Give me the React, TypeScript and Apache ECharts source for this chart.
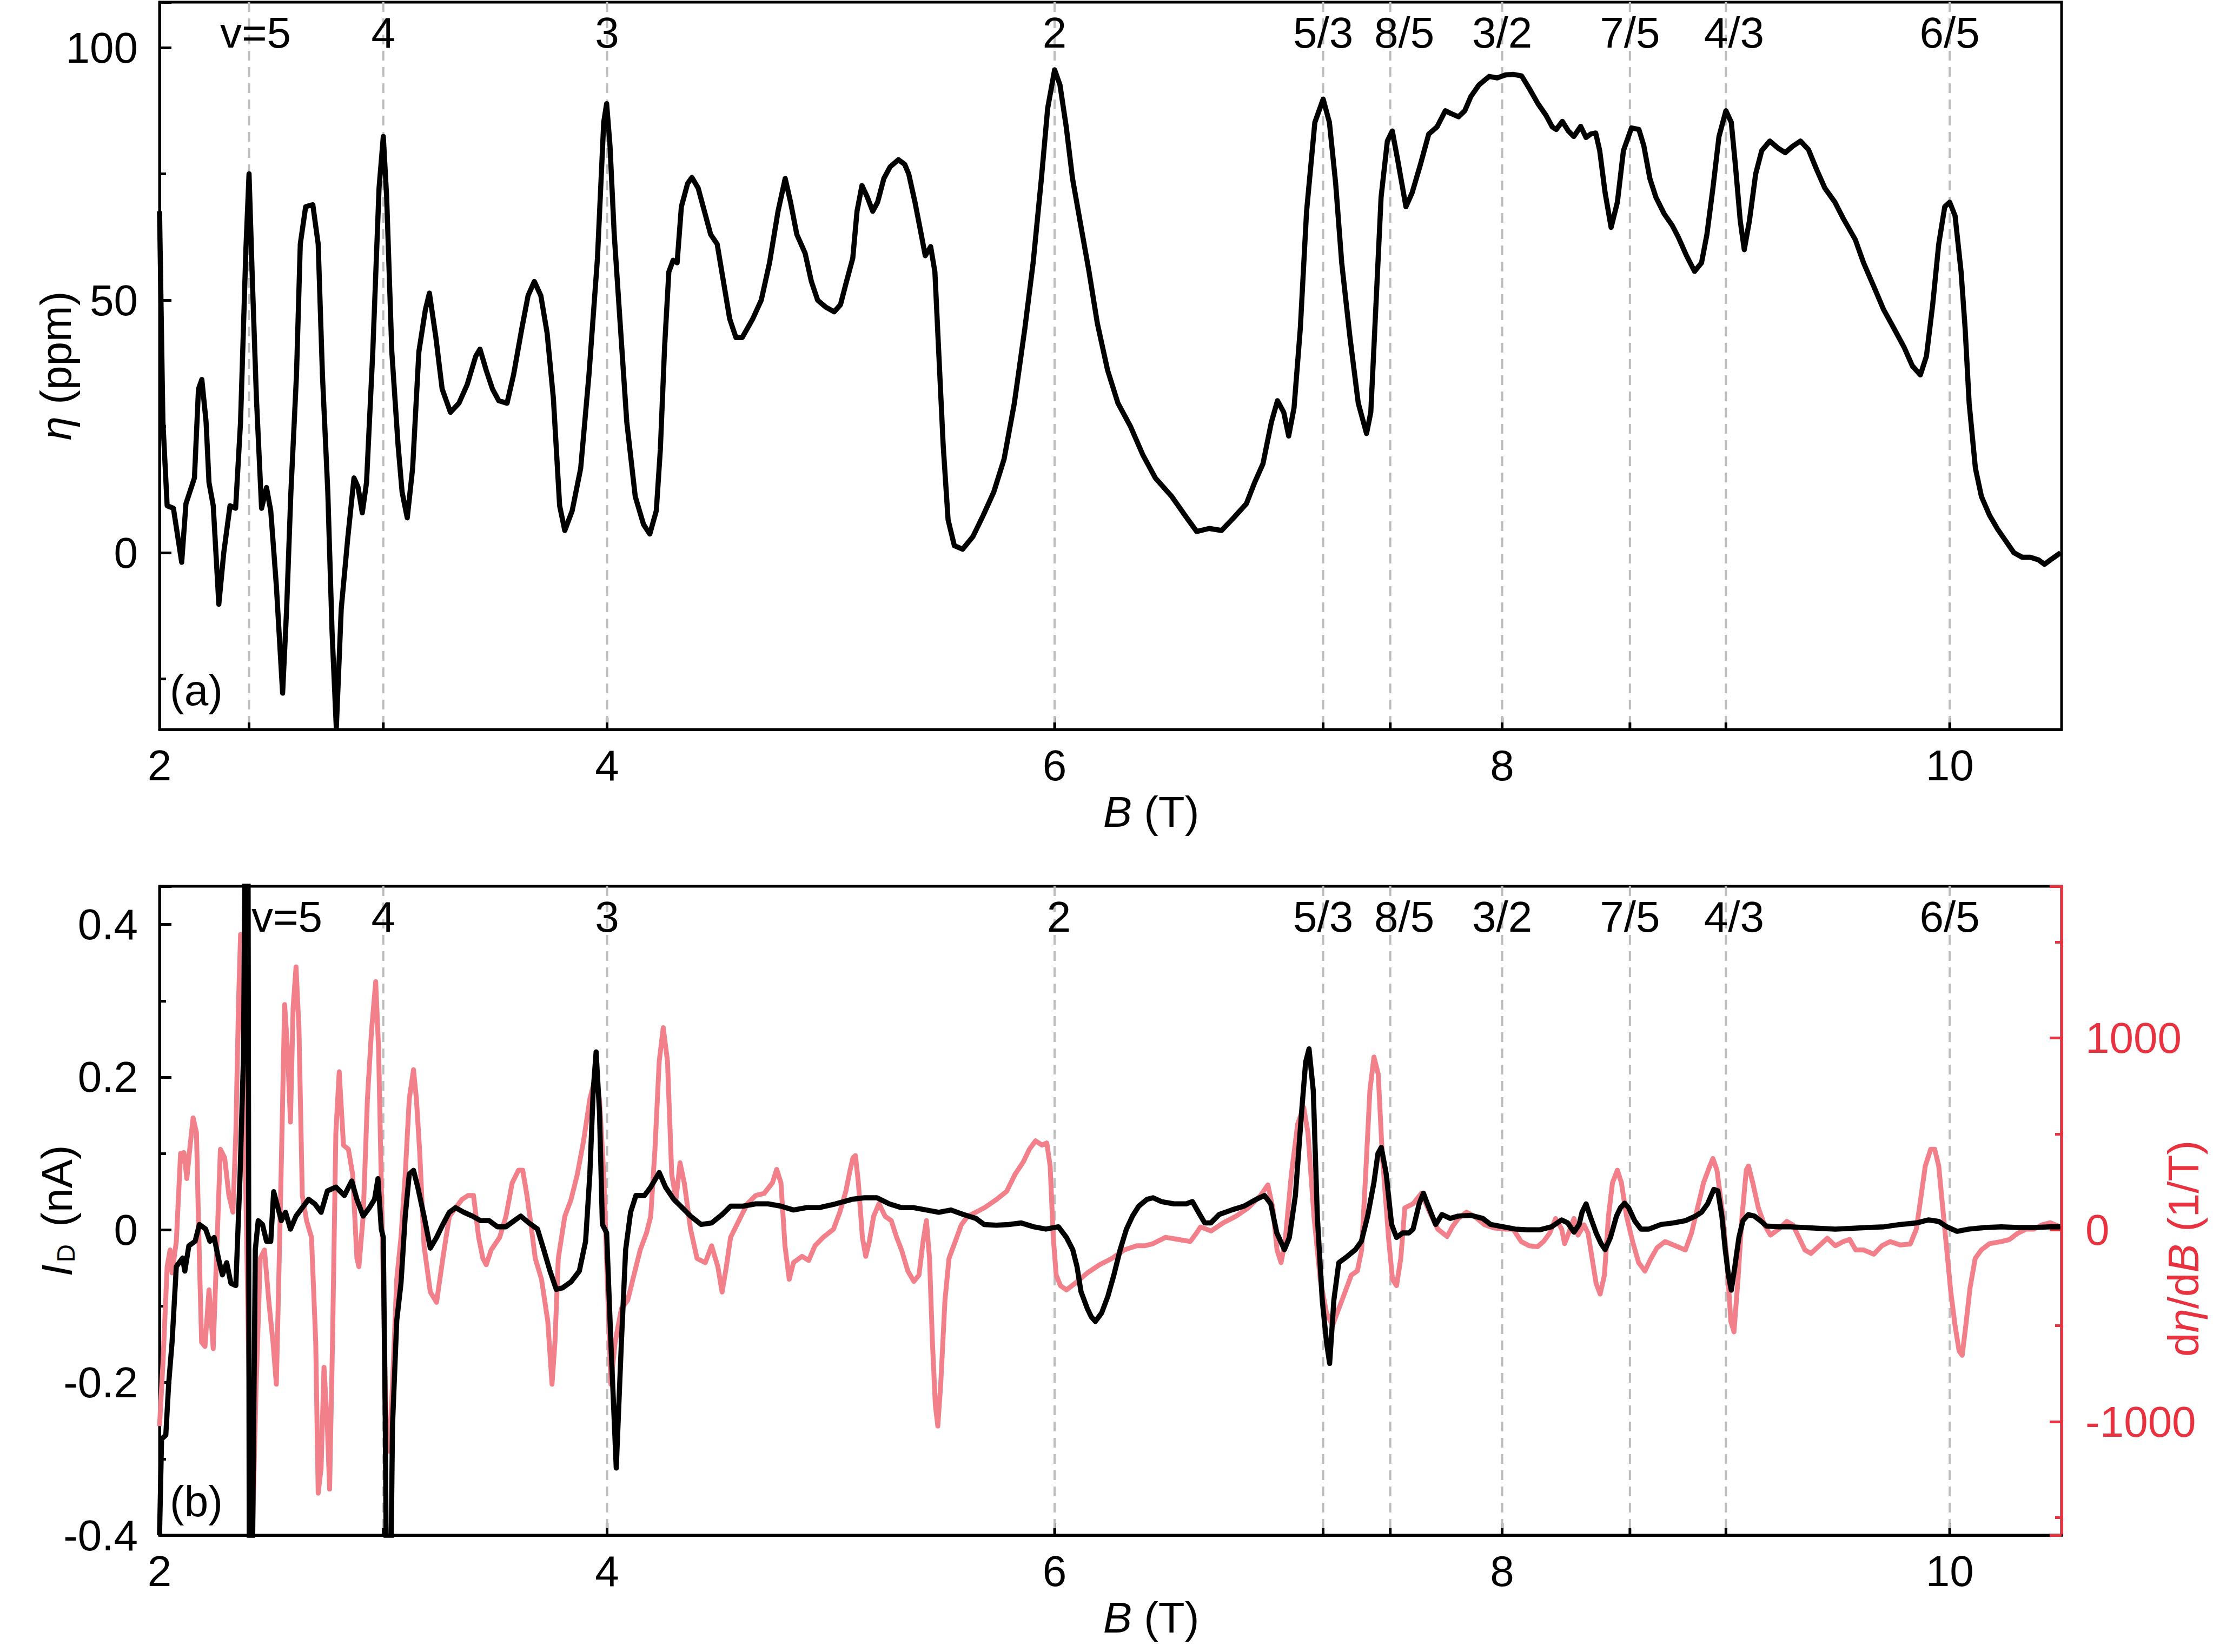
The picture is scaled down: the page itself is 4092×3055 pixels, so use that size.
import React, { useEffect, useRef } from 'react';
import * as echarts from 'echarts';

const FONT = 'Liberation Sans, Arial, Helvetica, sans-serif';
const RED = '#e8323f';
const PINK = '#f2808a';
const GRAY = '#bdbdbd';
const FS = 80;

// Filling factors: field positions and labels
const nuB = [2.4, 3, 4, 6, 7.2, 7.5, 8, 8.571, 9, 10];
const nuLabels = ['v=5', '4', '3', '2', '5/3', '8/5', '3/2', '7/5', '4/3', '6/5'];

// Axis ranges
const bRange = [2, 10.5];
const etaRange = [-35, 109];
const idRange = [-0.4, 0.45];
const dEtaRange = [-1592, 1791];

// (a) eta (ppm) vs B (T)
const etaCurve: [number, number][] = [
  [2.000,67.6],[2.015,26.0],[2.034,9.3],[2.062,8.8],[2.099,-1.9],[2.118,9.7],[2.156,14.8],[2.174,32.4],[2.189,34.3],[2.208,25.9],[2.221,13.9],[2.240,9.3],[2.265,-10.2],[2.287,0],[2.315,9.3],[2.340,8.8],[2.362,25.9],[2.386,60.2],[2.400,75.0],[2.415,53.7],[2.433,30.6],[2.456,8.8],[2.478,12.9],[2.497,8.3],[2.522,-6.5],[2.550,-27.8],[2.568,-11.1],[2.587,12.0],[2.612,35.2],[2.629,61.1],[2.653,68.5],[2.685,68.9],[2.709,61.1],[2.728,35.2],[2.752,12.0],[2.771,-15.7],[2.790,-34.7],[2.812,-11.1],[2.841,2.8],[2.869,14.8],[2.887,13.0],[2.906,7.9],[2.925,13.9],[2.953,39.8],[2.981,72.2],[3.000,82.4],[3.015,70.4],[3.038,39.8],[3.066,21.3],[3.084,12.0],[3.107,6.9],[3.131,16.7],[3.159,39.8],[3.188,48.1],[3.206,51.4],[3.235,42.6],[3.263,32.4],[3.300,27.8],[3.338,29.6],[3.375,33.3],[3.413,38.9],[3.432,40.3],[3.460,36.1],[3.488,32.4],[3.516,30.1],[3.553,29.6],[3.582,35.2],[3.619,44.4],[3.647,50.9],[3.675,53.7],[3.704,50.9],[3.732,43.5],[3.760,30.6],[3.788,9.3],[3.811,4.4],[3.844,8.3],[3.882,16.7],[3.919,35.2],[3.957,58.3],[3.985,85.2],[3.998,88.9],[4.013,80.6],[4.032,63.0],[4.060,44.4],[4.088,25.9],[4.126,11.1],[4.163,5.6],[4.191,3.7],[4.220,8.3],[4.238,20.4],[4.257,40.7],[4.276,55.6],[4.295,57.9],[4.313,57.4],[4.332,68.5],[4.360,73.1],[4.379,74.3],[4.407,72.2],[4.435,67.6],[4.463,63.0],[4.492,61.1],[4.520,53.7],[4.548,46.3],[4.576,42.6],[4.604,42.6],[4.651,46.3],[4.689,50.0],[4.726,57.4],[4.764,67.6],[4.796,74.1],[4.820,69.4],[4.848,63.0],[4.885,59.3],[4.913,53.7],[4.941,50.0],[4.978,48.6],[5.015,47.7],[5.043,49.1],[5.070,53.7],[5.098,58.3],[5.117,67.6],[5.139,72.7],[5.163,70.4],[5.187,67.6],[5.209,69.4],[5.237,74.1],[5.265,76.4],[5.302,77.8],[5.330,76.9],[5.348,75.0],[5.376,69.4],[5.404,63.0],[5.422,58.8],[5.446,60.6],[5.465,55.6],[5.483,38.9],[5.502,21.3],[5.524,6.5],[5.552,1.4],[5.589,0.7],[5.635,3.2],[5.681,7.4],[5.728,12.0],[5.774,18.5],[5.820,29.6],[5.867,44.4],[5.904,57.4],[5.941,74.1],[5.969,88.0],[6.000,95.6],[6.024,92.6],[6.052,84.3],[6.080,74.1],[6.117,64.8],[6.154,55.6],[6.191,45.4],[6.237,36.1],[6.283,29.6],[6.339,25.0],[6.394,19.4],[6.450,14.8],[6.524,11.1],[6.589,7.0],[6.635,4.2],[6.691,4.8],[6.746,4.4],[6.802,7.0],[6.857,9.7],[6.894,13.9],[6.931,17.6],[6.969,25.9],[6.996,30.1],[7.024,27.8],[7.046,23.1],[7.070,28.7],[7.098,44.4],[7.126,67.6],[7.163,85.2],[7.200,89.8],[7.228,85.2],[7.256,73.1],[7.283,57.4],[7.320,42.6],[7.357,29.6],[7.394,23.6],[7.413,27.8],[7.431,44.4],[7.459,70.4],[7.487,81.5],[7.509,83.5],[7.533,77.8],[7.570,68.5],[7.598,71.3],[7.635,76.9],[7.672,82.9],[7.709,84.3],[7.746,87.5],[7.769,87.0],[7.805,86.3],[7.833,87.5],[7.860,90.3],[7.896,92.6],[7.942,94.3],[7.978,94.0],[8.015,94.6],[8.051,94.7],[8.087,94.4],[8.124,91.7],[8.160,88.9],[8.196,86.6],[8.224,84.3],[8.242,83.8],[8.269,85.4],[8.296,83.5],[8.320,82.4],[8.351,84.4],[8.375,82.2],[8.396,82.9],[8.418,83.1],[8.436,79.6],[8.460,71.3],[8.487,64.4],[8.515,69.4],[8.542,79.6],[8.578,84.1],[8.611,83.8],[8.633,80.6],[8.660,74.1],[8.687,70.4],[8.724,67.1],[8.760,64.8],[8.787,62.5],[8.824,58.8],[8.860,55.7],[8.891,57.4],[8.915,63.0],[8.942,72.2],[8.969,82.4],[9.000,87.5],[9.024,85.2],[9.042,76.9],[9.064,65.7],[9.082,60.0],[9.105,65.7],[9.133,75.0],[9.160,79.6],[9.196,81.5],[9.233,80.1],[9.265,79.2],[9.296,80.4],[9.333,81.5],[9.369,79.8],[9.405,75.9],[9.442,72.2],[9.487,69.4],[9.524,66.2],[9.578,62.0],[9.615,57.4],[9.660,52.8],[9.705,48.1],[9.751,44.4],[9.796,40.7],[9.833,37.0],[9.869,35.2],[9.896,38.9],[9.924,49.1],[9.951,61.1],[9.978,68.5],[10.000,69.4],[10.024,66.7],[10.051,55.6],[10.069,44.4],[10.087,29.6],[10.115,16.7],[10.142,11.1],[10.178,7.4],[10.215,4.6],[10.251,2.3],[10.287,0.0],[10.324,-0.9],[10.360,-0.9],[10.396,-1.4],[10.424,-2.3],[10.451,-1.4],[10.496,0.0]
];

// (b) I_D (nA) vs B (T)
const idCurve: [number, number][] = [
  [2.000,-0.40],[2.009,-0.274],[2.028,-0.269],[2.041,-0.201],[2.056,-0.147],[2.075,-0.048],[2.103,-0.037],[2.113,-0.054],[2.131,-0.021],[2.159,-0.015],[2.178,0.007],[2.206,0.001],[2.225,-0.015],[2.244,-0.010],[2.263,-0.037],[2.281,-0.059],[2.300,-0.043],[2.319,-0.070],[2.341,-0.073],[2.360,0.073],[2.375,0.226],[2.385,0.60],[2.395,0.60],[2.402,-0.60],[2.410,-0.60],[2.428,-0.026],[2.441,0.012],[2.460,0.007],[2.478,-0.015],[2.497,-0.015],[2.510,0.050],[2.529,0.029],[2.544,0.012],[2.563,0.023],[2.585,0.001],[2.610,0.018],[2.638,0.029],[2.666,0.040],[2.694,0.034],[2.722,0.023],[2.750,0.051],[2.788,0.056],[2.826,0.045],[2.859,0.064],[2.882,0.040],[2.910,0.018],[2.938,0.029],[2.961,0.040],[2.976,0.067],[2.991,0.001],[3.000,-0.010],[3.009,-0.257],[3.017,-0.60],[3.028,-0.60],[3.041,-0.257],[3.060,-0.119],[3.079,-0.070],[3.098,0.018],[3.116,0.073],[3.135,0.078],[3.154,0.056],[3.182,0.018],[3.210,-0.024],[3.238,-0.010],[3.266,0.007],[3.295,0.023],[3.323,0.029],[3.360,0.023],[3.398,0.018],[3.435,0.012],[3.473,0.012],[3.510,0.004],[3.548,0.004],[3.585,0.012],[3.614,0.018],[3.651,0.009],[3.689,0.001],[3.717,-0.026],[3.745,-0.054],[3.773,-0.078],[3.801,-0.076],[3.839,-0.068],[3.876,-0.054],[3.904,-0.015],[3.923,0.073],[3.938,0.182],[3.951,0.233],[3.966,0.155],[3.979,0.007],[3.998,-0.004],[4.017,-0.147],[4.041,-0.312],[4.064,-0.147],[4.083,-0.026],[4.105,0.023],[4.129,0.045],[4.167,0.045],[4.195,0.056],[4.233,0.075],[4.261,0.056],[4.298,0.040],[4.336,0.029],[4.373,0.018],[4.420,0.007],[4.467,0.009],[4.514,0.020],[4.552,0.031],[4.608,0.031],[4.664,0.034],[4.720,0.034],[4.777,0.031],[4.833,0.026],[4.889,0.029],[4.948,0.029],[5.021,0.034],[5.095,0.040],[5.150,0.042],[5.206,0.042],[5.261,0.034],[5.316,0.029],[5.371,0.029],[5.427,0.026],[5.482,0.023],[5.537,0.026],[5.593,0.020],[5.648,0.015],[5.685,0.007],[5.740,0.006],[5.795,0.007],[5.851,0.009],[5.906,0.004],[5.961,0.001],[6.017,0.004],[6.053,-0.010],[6.081,-0.026],[6.100,-0.048],[6.118,-0.081],[6.146,-0.103],[6.164,-0.114],[6.182,-0.120],[6.210,-0.109],[6.238,-0.087],[6.265,-0.059],[6.293,-0.026],[6.321,0.001],[6.348,0.018],[6.376,0.031],[6.413,0.040],[6.440,0.042],[6.477,0.037],[6.533,0.034],[6.588,0.034],[6.616,0.037],[6.643,0.023],[6.671,0.009],[6.698,0.009],[6.735,0.020],[6.791,0.026],[6.846,0.031],[6.901,0.040],[6.938,0.045],[6.966,0.034],[6.993,-0.004],[7.027,-0.026],[7.049,-0.010],[7.076,0.045],[7.104,0.155],[7.122,0.220],[7.137,0.237],[7.156,0.182],[7.174,0.018],[7.196,-0.092],[7.215,-0.147],[7.229,-0.175],[7.248,-0.092],[7.270,-0.043],[7.307,-0.035],[7.344,-0.026],[7.371,-0.015],[7.399,0.018],[7.427,0.062],[7.445,0.100],[7.460,0.108],[7.482,0.073],[7.506,0.007],[7.528,-0.010],[7.556,-0.004],[7.583,-0.004],[7.602,0.001],[7.629,0.034],[7.648,0.048],[7.666,0.034],[7.703,0.007],[7.731,0.020],[7.768,0.015],[7.804,0.018],[7.859,0.019],[7.913,0.015],[7.949,0.007],[8.004,0.004],[8.058,0.001],[8.112,0.000],[8.167,0.000],[8.221,0.004],[8.266,0.013],[8.293,0.009],[8.321,-0.003],[8.344,0.007],[8.357,0.023],[8.375,0.034],[8.393,0.018],[8.420,-0.004],[8.442,-0.018],[8.460,-0.026],[8.484,-0.010],[8.511,0.018],[8.529,0.029],[8.547,0.035],[8.565,0.029],[8.592,0.012],[8.620,0.001],[8.656,0.001],[8.710,0.007],[8.764,0.009],[8.819,0.012],[8.864,0.018],[8.891,0.023],[8.918,0.034],[8.946,0.053],[8.964,0.051],[8.982,0.018],[8.997,-0.026],[9.011,-0.059],[9.024,-0.079],[9.040,-0.048],[9.058,-0.010],[9.076,0.012],[9.100,0.020],[9.127,0.018],[9.154,0.012],[9.181,0.005],[9.236,0.004],[9.290,0.004],[9.344,0.003],[9.417,0.002],[9.489,0.001],[9.562,0.002],[9.634,0.003],[9.707,0.004],[9.779,0.007],[9.851,0.009],[9.906,0.013],[9.951,0.011],[9.987,0.004],[10.033,-0.002],[10.087,0.001],[10.159,0.003],[10.232,0.004],[10.304,0.003],[10.377,0.003],[10.449,0.004],[10.495,0.004]
];

// (b) d(eta)/dB (1/T) vs B (T)
const dEtaCurve: [number, number][] = [
  [2.000,-1023],[2.015,-700],[2.034,-192],[2.047,-105],[2.056,-225],[2.075,-61],[2.094,398],[2.109,403],[2.122,267],[2.135,420],[2.150,584],[2.165,507],[2.178,-149],[2.188,-586],[2.203,-608],[2.221,-313],[2.240,-619],[2.253,-192],[2.272,420],[2.291,376],[2.310,179],[2.328,92],[2.341,507],[2.353,1181],[2.362,1540],[2.375,940],[2.394,-368],[2.413,-1700],[2.432,-805],[2.450,-149],[2.469,-105],[2.488,-368],[2.507,-586],[2.522,-805],[2.535,-149],[2.548,551],[2.559,1174],[2.572,940],[2.585,562],[2.597,1159],[2.610,1371],[2.623,1050],[2.638,179],[2.657,48],[2.679,-39],[2.698,-586],[2.709,-1373],[2.722,-1242],[2.735,-717],[2.750,-1023],[2.760,-1352],[2.773,-586],[2.788,507],[2.803,824],[2.822,441],[2.844,420],[2.863,289],[2.882,-149],[2.891,-192],[2.910,70],[2.929,682],[2.947,1032],[2.966,1294],[2.979,940],[2.994,70],[3.013,-1023],[3.028,-1155],[3.041,-805],[3.060,-258],[3.079,-39],[3.098,289],[3.116,682],[3.135,835],[3.148,682],[3.163,398],[3.182,-83],[3.210,-324],[3.238,-378],[3.266,-149],[3.295,70],[3.323,114],[3.351,158],[3.379,179],[3.403,179],[3.426,-39],[3.445,-149],[3.460,-182],[3.482,-105],[3.520,-39],[3.548,70],[3.576,245],[3.604,311],[3.623,311],[3.642,179],[3.660,26],[3.679,-149],[3.707,-258],[3.735,-476],[3.754,-805],[3.767,-586],[3.782,-149],[3.811,70],[3.839,158],[3.867,289],[3.895,464],[3.923,682],[3.947,792],[3.966,682],[3.985,289],[4.004,-368],[4.017,-805],[4.036,-586],[4.064,-411],[4.092,-368],[4.120,-236],[4.148,-105],[4.176,-17],[4.195,70],[4.214,420],[4.233,879],[4.251,1054],[4.270,879],[4.289,289],[4.308,158],[4.326,350],[4.345,245],[4.373,4],[4.402,-149],[4.439,-171],[4.467,-83],[4.495,-192],[4.514,-324],[4.533,-192],[4.552,-39],[4.589,48],[4.627,136],[4.664,179],[4.702,190],[4.739,245],[4.758,315],[4.777,245],[4.795,-83],[4.814,-258],[4.833,-171],[4.871,-138],[4.901,-160],[4.929,-83],[4.966,-39],[5.012,4],[5.040,92],[5.067,201],[5.086,311],[5.099,376],[5.110,387],[5.123,245],[5.141,-39],[5.156,-138],[5.172,-61],[5.191,70],[5.215,136],[5.243,70],[5.270,48],[5.294,-39],[5.316,-105],[5.344,-214],[5.371,-269],[5.394,-236],[5.412,-61],[5.427,48],[5.441,-149],[5.454,-586],[5.467,-914],[5.478,-1023],[5.491,-805],[5.510,-368],[5.528,-149],[5.556,-61],[5.583,26],[5.611,70],[5.648,92],[5.685,114],[5.740,158],[5.786,201],[5.823,289],[5.860,354],[5.887,420],[5.915,464],[5.943,442],[5.965,453],[5.980,333],[5.994,-39],[6.007,-236],[6.026,-291],[6.053,-313],[6.090,-280],[6.146,-225],[6.201,-182],[6.256,-149],[6.311,-105],[6.367,-83],[6.404,-83],[6.440,-72],[6.496,-39],[6.551,-50],[6.606,-61],[6.634,-17],[6.652,15],[6.699,-6],[6.754,37],[6.809,70],[6.865,114],[6.920,179],[6.953,234],[6.975,114],[6.994,-105],[7.012,-171],[7.030,-61],[7.058,289],[7.086,551],[7.113,639],[7.132,507],[7.159,70],[7.187,-258],[7.215,-433],[7.242,-499],[7.270,-411],[7.298,-324],[7.326,-236],[7.353,-214],[7.372,-105],[7.390,289],[7.409,726],[7.427,901],[7.446,814],[7.464,398],[7.492,-39],[7.510,-258],[7.528,-291],[7.547,-149],[7.565,114],[7.602,136],[7.639,190],[7.676,92],[7.712,4],[7.754,-35],[7.777,15],[7.804,59],[7.841,92],[7.877,70],[7.922,26],[7.967,9],[8.013,4],[8.049,4],[8.085,-61],[8.121,-83],[8.158,-88],[8.185,-61],[8.212,-18],[8.239,59],[8.266,4],[8.279,-72],[8.297,-18],[8.321,59],[8.339,-28],[8.366,26],[8.384,-18],[8.402,-149],[8.420,-280],[8.438,-335],[8.457,-237],[8.475,70],[8.493,245],[8.515,311],[8.533,245],[8.556,70],[8.583,-61],[8.610,-171],[8.638,-215],[8.665,-149],[8.692,-94],[8.728,-61],[8.774,-83],[8.819,-105],[8.846,-18],[8.873,114],[8.900,245],[8.928,333],[8.942,372],[8.960,311],[8.982,114],[9.004,-149],[9.022,-477],[9.036,-532],[9.054,-258],[9.072,70],[9.091,311],[9.101,333],[9.120,245],[9.145,114],[9.172,26],[9.199,-28],[9.236,4],[9.272,44],[9.299,26],[9.326,-39],[9.353,-105],[9.380,-123],[9.417,-83],[9.453,-44],[9.489,-83],[9.525,-61],[9.553,-50],[9.580,-105],[9.616,-105],[9.661,-127],[9.697,-83],[9.734,-61],[9.779,-79],[9.824,-74],[9.851,4],[9.870,158],[9.891,333],[9.915,420],[9.933,420],[9.951,333],[9.969,114],[9.987,-105],[10.005,-324],[10.024,-499],[10.042,-631],[10.056,-654],[10.072,-499],[10.091,-302],[10.114,-149],[10.141,-105],[10.178,-72],[10.232,-61],[10.268,-50],[10.304,-18],[10.341,4],[10.377,4],[10.413,26],[10.449,37],[10.495,15]
];

// label horizontal nudges (styling only)
const topLabelDx: Record<string, number> = { 'v=5': 12, '8/5': 26, '4/3': 15 };
const botLabelDx: Record<string, number> = { 'v=5': 70, '8/5': 26, '4/3': 15, '2': 8 };

function nuRenderer(yMin: number, yMax: number, dx: Record<string, number>) {
  return (params: any, api: any) => {
    const b = api.value(0);
    const label = nuLabels[params.dataIndex];
    const top = api.coord([b, yMax]);
    const bot = api.coord([b, yMin]);
    return {
      type: 'group',
      children: [
        {
          type: 'line',
          shape: { x1: top[0], y1: top[1], x2: bot[0], y2: bot[1] },
          style: { stroke: GRAY, lineWidth: 4, lineDash: [18, 12] },
        },
        {
          type: 'line',
          shape: { x1: bot[0], y1: bot[1], x2: bot[0], y2: bot[1] - 13 },
          style: { stroke: '#000', lineWidth: 5 },
        },
        {
          type: 'text',
          x: top[0] + (dx[label] || 0),
          y: top[1] + 56,
          style: {
            text: label, fill: '#000', fontSize: FS, fontFamily: FONT,
            align: 'center', verticalAlign: 'middle',
          },
        },
      ],
    };
  };
}

const axisFont = { fontSize: FS, fontFamily: FONT, color: '#000' };

function xAxisCfg(gridIndex: number) {
  return {
    type: 'value', gridIndex, min: bRange[0], max: bRange[1], interval: 2,
    axisLine: { show: true, onZero: false, lineStyle: { color: '#000', width: 5 } },
    axisTick: { show: true, inside: true, length: 22, lineStyle: { color: '#000', width: 5 } },
    axisLabel: { ...axisFont, margin: 26, showMaxLabel: false, showMinLabel: true },
    splitLine: { show: false },
    name: '{i|B} (T)', nameLocation: 'middle', nameGap: 112, nameMoveOverlap: false,
    nameTextStyle: { ...axisFont, padding: [0, 0, 0, 150], rich: { i: { ...axisFont, fontStyle: 'italic' } } },
  };
}

export default function App() {
  const ref = useRef<HTMLDivElement>(null);
  useEffect(() => {
    if (!ref.current) return;
    const chart = echarts.init(ref.current, undefined, { renderer: 'svg' });
    const option: any = {
      animation: false,
      backgroundColor: '#fff',
      grid: [
        { left: 295, top: 4, width: 3517, height: 1345, show: true, borderColor: '#000', borderWidth: 5, containLabel: false, outerBoundsMode: 'none' },
        { left: 295, top: 1639, width: 3517, height: 1200, show: true, borderColor: '#000', borderWidth: 5, containLabel: false, outerBoundsMode: 'none' },
      ],
      xAxis: [xAxisCfg(0), xAxisCfg(1)],
      yAxis: [
        {
          type: 'value', gridIndex: 0, min: etaRange[0], max: etaRange[1], splitNumber: 3,
          axisLine: { show: true, onZero: false, lineStyle: { color: '#000', width: 5 } },
          axisTick: { show: true, inside: true, length: 22, lineStyle: { color: '#000', width: 5 } },
          minorTick: { show: true, splitNumber: 2, length: 12, lineStyle: { color: '#000', width: 5 } },
          axisLabel: { ...axisFont, margin: 40, showMinLabel: false, showMaxLabel: false },
          splitLine: { show: false },
          name: '{i|η} (ppm)', nameLocation: 'middle', nameRotate: 90, nameGap: 152, nameMoveOverlap: false,
          nameTextStyle: { ...axisFont, rich: { i: { ...axisFont, fontStyle: 'italic' } } },
        },
        {
          type: 'value', gridIndex: 1, min: idRange[0], max: idRange[1], splitNumber: 4,
          axisLine: { show: true, onZero: false, lineStyle: { color: '#000', width: 5 } },
          axisTick: { show: true, inside: true, length: 22, lineStyle: { color: '#000', width: 5 } },
          minorTick: { show: true, splitNumber: 2, length: 12, lineStyle: { color: '#000', width: 5 } },
          axisLabel: {
            ...axisFont, margin: 40, showMinLabel: true, showMaxLabel: false,
            formatter: (v: number) => (Math.abs(v) < 1e-9 ? '0' : v.toFixed(1)),
          },
          splitLine: { show: false },
          name: '{i|I}{s|D} (nA)', nameLocation: 'middle', nameRotate: 90, nameGap: 150, nameMoveOverlap: false,
          nameTextStyle: {
            ...axisFont,
            rich: {
              i: { ...axisFont, fontStyle: 'italic' },
              s: { fontSize: 46, fontFamily: FONT, color: '#000', verticalAlign: 'bottom', padding: [0, 10, 0, 4] },
            },
          },
        },
        {
          type: 'value', gridIndex: 1, position: 'right', min: dEtaRange[0], max: dEtaRange[1], splitNumber: 3,
          axisLine: { show: true, onZero: false, lineStyle: { color: RED, width: 5 } },
          axisTick: { show: true, inside: true, length: 22, lineStyle: { color: RED, width: 5 } },
          minorTick: { show: true, splitNumber: 2, length: 12, lineStyle: { color: RED, width: 5 } },
          axisLabel: {
            fontSize: FS, fontFamily: FONT, color: RED, margin: 44,
            showMinLabel: false, showMaxLabel: false,
            formatter: (v: number) => String(Math.round(v)),
          },
          splitLine: { show: false },
          name: 'd{i|η}/d{i|B} (1/T)', nameLocation: 'middle', nameRotate: 90, nameGap: 185, nameMoveOverlap: false,
          nameTextStyle: {
            fontSize: FS, fontFamily: FONT, color: RED, padding: [0, 140, 0, 0],
            rich: { i: { fontSize: FS, fontFamily: FONT, color: RED, fontStyle: 'italic' } },
          },
        },
      ],
      graphic: [
        { type: 'text', left: 314, top: 1236, style: { text: '(a)', fontSize: FS, fontFamily: FONT, fill: '#000' } },
        { type: 'text', left: 314, top: 2736, style: { text: '(b)', fontSize: FS, fontFamily: FONT, fill: '#000' } },
      ],
      series: [
        {
          type: 'custom', xAxisIndex: 0, yAxisIndex: 0, z: 1, silent: true, clip: false,
          data: nuB.map((b) => [b, 0]),
          renderItem: nuRenderer(etaRange[0], etaRange[1], topLabelDx),
        },
        {
          type: 'line', xAxisIndex: 0, yAxisIndex: 0, z: 3, silent: true, symbol: 'none',
          data: etaCurve, lineStyle: { color: '#000', width: 9.5, join: 'round' }, itemStyle: { color: '#000' },
        },
        {
          type: 'custom', xAxisIndex: 1, yAxisIndex: 1, z: 1, silent: true, clip: false,
          data: nuB.map((b) => [b, 0]),
          renderItem: nuRenderer(idRange[0], idRange[1], botLabelDx),
        },
        {
          type: 'line', xAxisIndex: 1, yAxisIndex: 2, z: 2, silent: true, symbol: 'none',
          data: dEtaCurve, lineStyle: { color: PINK, width: 9, join: 'round' }, itemStyle: { color: PINK },
        },
        {
          type: 'line', xAxisIndex: 1, yAxisIndex: 1, z: 3, silent: true, symbol: 'none',
          data: idCurve, lineStyle: { color: '#000', width: 9.5, join: 'round' }, itemStyle: { color: '#000' },
        },
      ],
    };
    chart.setOption(option);
    return () => chart.dispose();
  }, []);
  return (
    <div
      ref={ref}
      style={{ position: 'absolute', left: 0, top: 0, width: 4092, height: 3055, background: '#fff' }}
    />
  );
}
